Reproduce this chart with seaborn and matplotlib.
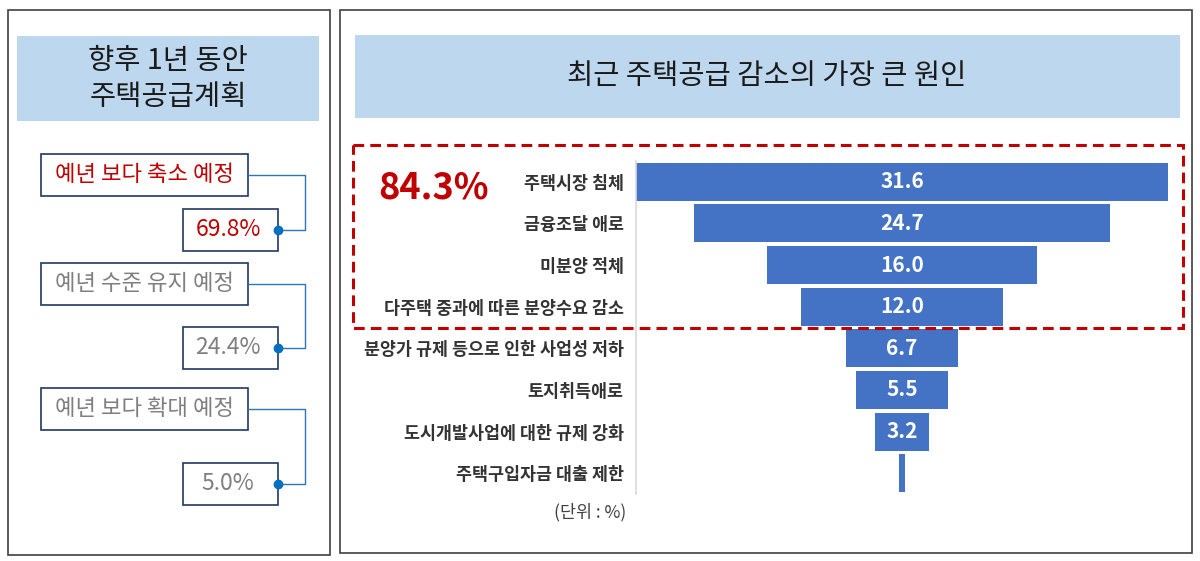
import numpy as np
import pandas as pd
import matplotlib
matplotlib.use('Agg')
import matplotlib.pyplot as plt
import seaborn as sns
from matplotlib.patches import Rectangle

# data
plan_labels = ['예년 보다 축소 예정', '예년 수준 유지 예정', '예년 보다 확대 예정']
plan_values = [69.8, 24.4, 5.0]
plan_colors = ['#C00000', '#7F7F7F', '#7F7F7F']

cause_labels = ['주택시장 침체', '금융조달 애로', '미분양 적체', '다주택 중과에 따른 분양수요 감소',
                '분양가 규제 등으로 인한 사업성 저하', '토지취득애로', '도시개발사업에 대한 규제 강화',
                '주택구입자금 대출 제한']
cause_values = [31.6, 24.7, 16.0, 12.0, 6.7, 5.5, 3.2, 0.4]
top4_share = '84.3%'

sns.set_theme(style='white')
plt.rcParams['font.family'] = ['Noto Sans CJK KR', 'DejaVu Sans']

W, H = 1200, 561
fig = plt.figure(figsize=(W / 100, H / 100), dpi=100)

# background axes in pixel coordinates
bg = fig.add_axes([0, 0, 1, 1])
bg.set_xlim(0, W)
bg.set_ylim(H, 0)
bg.axis('off')

# panel frames
bg.add_patch(Rectangle((8, 10), 322, 545, fill=False, ec='#404040', lw=1.2))
bg.add_patch(Rectangle((340, 10), 852, 543, fill=False, ec='#404040', lw=1.2))

# title bars
bg.add_patch(Rectangle((17, 36), 302, 85, fc='#BDD7EE', ec='none'))
bg.text(168, 79, '향후 1년 동안\n주택공급계획', ha='center', va='center', fontsize=20.5,
        color='#1a1a1a', linespacing=1.25)
bg.add_patch(Rectangle((355, 35), 825, 83, fc='#BDD7EE', ec='none'))
bg.text(767, 76, '최근 주택공급 감소의 가장 큰 원인', ha='center', va='center',
        fontsize=20.5, color='#1a1a1a')

# left panel: plan boxes with connectors
tops = [154, 263, 388]
val_tops = [209, 327, 463]
line_c = '#2E75B6'
for lab, val, col, t, vt in zip(plan_labels, plan_values, plan_colors, tops, val_tops):
    bg.add_patch(Rectangle((41, t), 207, 42, fill=False, ec='#1F3864', lw=1.2))
    bg.text(144.5, t + 20, lab, ha='center', va='center', fontsize=16, color=col)
    bg.add_patch(Rectangle((183, vt), 95, 42, fill=False, ec='#1F3864', lw=1.2))
    bg.text(228, vt + 20, f'{val:.1f}%', ha='center', va='center', fontsize=16.5, color=col)
    ly, vy = t + 21, vt + 21
    bg.plot([248, 305, 305, 278], [ly, ly, vy, vy], color=line_c, lw=1.0)
    bg.plot([278], [vy], 'o', color='#0070C0', ms=6)

# funnel axes
fx0, fx1, fy0, fy1 = 636, 1168, 161, 494
ax = fig.add_axes([fx0 / W, 1 - fy1 / H, (fx1 - fx0) / W, (fy1 - fy0) / H])
df = pd.DataFrame({'cause': cause_labels, 'value': cause_values})
sns.barplot(data=df, x='value', y='cause', orient='h', color='#4472C4', width=0.91,
            linewidth=0, saturation=1, ax=ax)
for p in ax.patches:
    p.set_x(-p.get_width() / 2)
half = 15.8
ax.set_xlim(-half, half)
ax.set_ylim(len(cause_labels) - 0.5, -0.5)
ax.set_xlabel('')
ax.set_ylabel('')
ax.set_xticks([])
ax.tick_params(axis='y', length=0, pad=9)
for lbl in ax.get_yticklabels():
    lbl.set_fontsize(12.5)
    lbl.set_fontweight('bold')
    lbl.set_color('#333333')
for s in ['top', 'right', 'bottom']:
    ax.spines[s].set_visible(False)
ax.spines['left'].set_color('#D9D9D9')
ax.spines['left'].set_linewidth(1.2)
for i, v in enumerate(cause_values):
    if v >= 1:
        ax.text(0, i, f'{v:.1f}', ha='center', va='center', color='white',
                fontsize=15, fontweight='bold')

# highlight box for top 4 causes
fig.add_artist(Rectangle((353, 145), 830, 183, fill=False, ec='#C00000', lw=2.2,
                         ls=(0, (3.5, 2)), transform=bg.transData))
bg.text(434, 188, top4_share, ha='center', va='center', fontsize=26,
        fontweight='bold', color='#C00000')
bg.text(626, 512, '(단위 : %)', ha='right', va='center', fontsize=12.5, color='#404040')

fig.savefig('out.png', dpi=100)
